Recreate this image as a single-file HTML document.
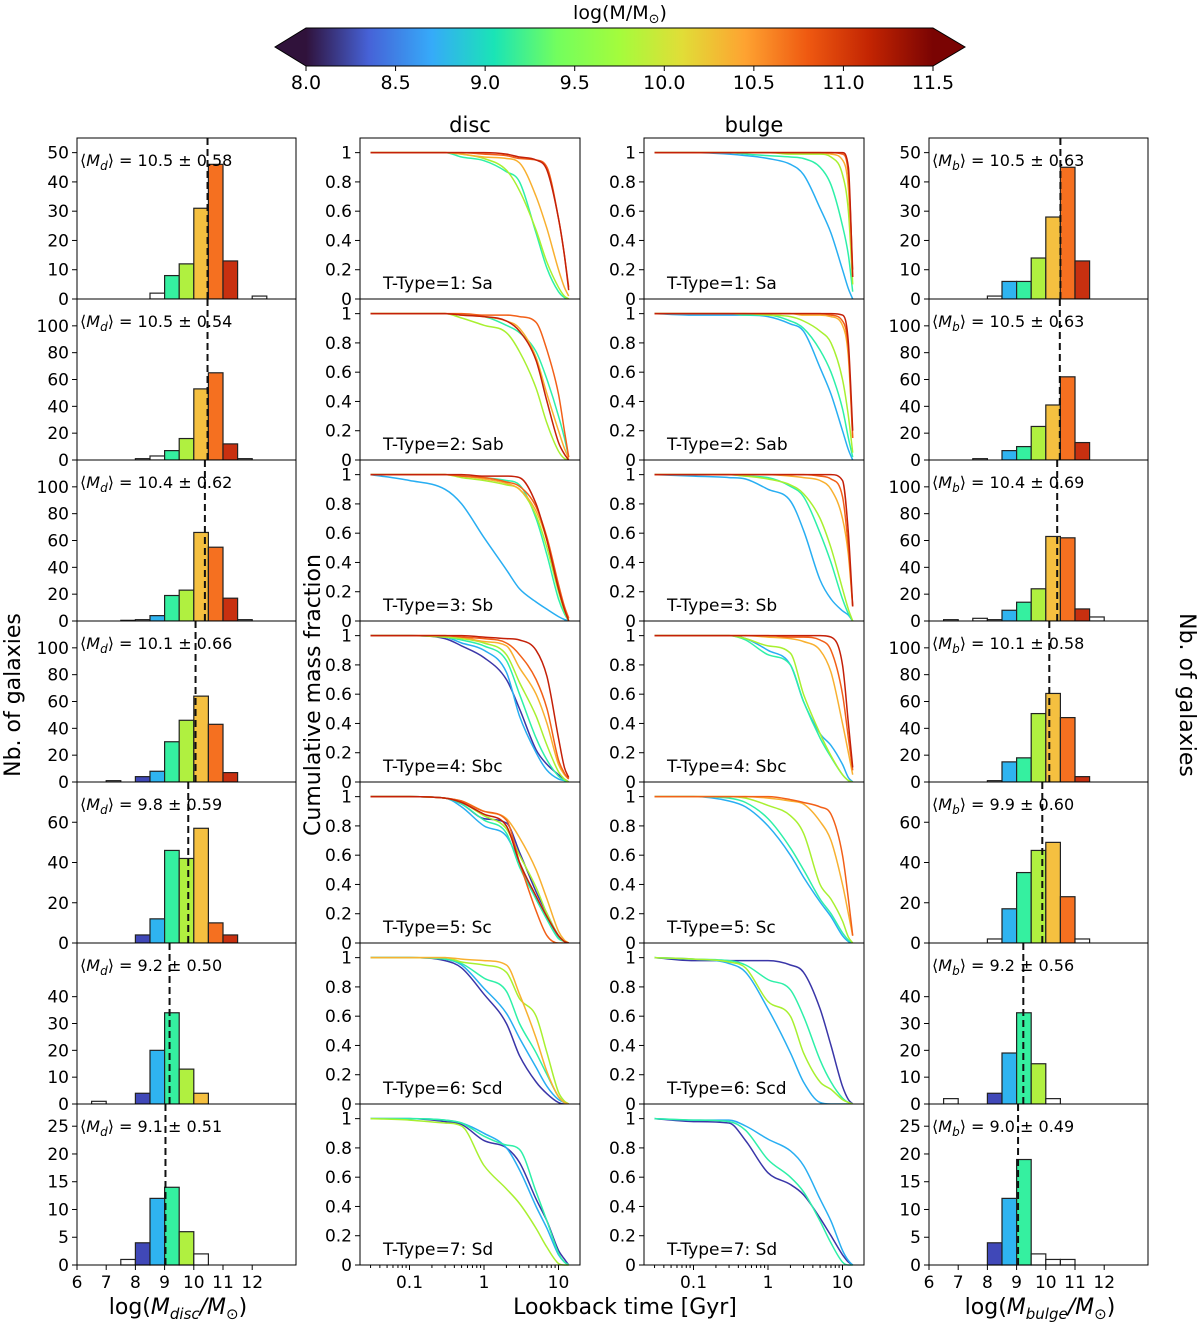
<!DOCTYPE html>
<html><head><meta charset="utf-8"><title>Mass assembly by T-Type</title>
<style>
html,body{margin:0;padding:0;background:#fff;}
svg{display:block;font-family:"DejaVu Sans","Liberation Sans",sans-serif;}
</style></head>
<body>
<svg id="fig" xmlns="http://www.w3.org/2000/svg" width="1200" height="1322" viewBox="0 0 1200 1322">
<defs>
<linearGradient id="turbo" x1="0" x2="1" y1="0" y2="0">
<stop offset="0" stop-color="#30123b"/><stop offset="0.1" stop-color="#4662d7"/>
<stop offset="0.2" stop-color="#36aaf9"/><stop offset="0.3" stop-color="#1ae4b6"/>
<stop offset="0.4" stop-color="#72fe5e"/><stop offset="0.5" stop-color="#a4fc3c"/>
<stop offset="0.6" stop-color="#e1dd37"/><stop offset="0.7" stop-color="#fea331"/>
<stop offset="0.8" stop-color="#ef5911"/><stop offset="0.9" stop-color="#c22402"/>
<stop offset="1" stop-color="#7a0403"/></linearGradient>
</defs>
<g>
<polygon points="306,28 275,47 306,66" fill="#30123b"/>
<polygon points="933,28 965,47 933,66" fill="#7a0403"/>
<rect x="306" y="28" width="627" height="38" fill="url(#turbo)"/>
<polygon points="306,28 933,28 965,47 933,66 306,66 275,47" fill="none" stroke="#000" stroke-width="1"/>
<text x="620" y="19" font-size="19" text-anchor="middle">log(M/M<tspan font-size="13" dy="4">⊙</tspan><tspan dy="-4">)</tspan></text>
</g>
<g id="cbticks"></g>
<text x="470" y="132" font-size="21" text-anchor="middle">disc</text>
<text x="754" y="132" font-size="21" text-anchor="middle">bulge</text>
<text transform="translate(20,695) rotate(-90)" font-size="22" text-anchor="middle">Nb. of galaxies</text>
<text transform="translate(1180,695) rotate(90)" font-size="22" text-anchor="middle">Nb. of galaxies</text>
<text transform="translate(320,695) rotate(-90)" font-size="22" text-anchor="middle">Cumulative mass fraction</text>
<text x="625" y="1314" font-size="22" text-anchor="middle">Lookback time [Gyr]</text>
<text x="178" y="1314" font-size="22" text-anchor="middle">log(<tspan font-style="italic">M</tspan><tspan font-style="italic" font-size="15" dy="5">disc</tspan><tspan dy="-5" font-style="italic">/M</tspan><tspan font-size="15" dy="5">⊙</tspan><tspan dy="-5">)</tspan></text>
<text x="1040" y="1314" font-size="22" text-anchor="middle">log(<tspan font-style="italic">M</tspan><tspan font-style="italic" font-size="15" dy="5">bulge</tspan><tspan dy="-5" font-style="italic">/M</tspan><tspan font-size="15" dy="5">⊙</tspan><tspan dy="-5">)</tspan></text>
<g id="plots"></g>
</svg>
<script>
// ---- data ----
const cbTickValues = [8.0, 8.5, 9.0, 9.5, 10.0, 10.5, 11.0, 11.5];
const ttypeLabels = ["T-Type=1: Sa","T-Type=2: Sab","T-Type=3: Sb","T-Type=4: Sbc","T-Type=5: Sc","T-Type=6: Scd","T-Type=7: Sd"];
const histYMax = [55,120,120,120,80,60,29];
const histYTicks = [[0,10,20,30,40,50],[0,20,40,60,80,100],[0,20,40,60,80,100],[0,20,40,60,80,100],[0,20,40,60],[0,10,20,30,40],[0,5,10,15,20,25]];
const histXTicks = [6,7,8,9,10,11,12];
const massBinEdges = [8,8.5,9,9.5,10,10.5,11,11.5];

const discStart = [8.5,8,7.5,7,8,6.5,7.5];
const discCounts = [[2,8,12,31,46,13,0,1],[1,3,7,16,53,65,12,1],[0.5,1,4,19,23,66,55,17,1],[1,0,4,8,30,46,64,43,7],[4,12,46,42,57,10,4],[1,0,0,4,20,34,13,4],[1,4,12,14,6,2]];
const discColMin = [9,9,8.5,8,8,8,8];
const discColMax = [11.5,11.5,11.5,11.5,11.5,10.5,10];
const discMean = [10.47,10.47,10.38,10.06,9.81,9.17,9.03];
const discMeanTxt = ["10.5","10.5","10.4","10.1","9.8","9.2","9.1"];
const discStdTxt = ["0.58","0.54","0.62","0.66","0.59","0.50","0.51"];

const bulgeStart = [8,7.5,6.5,8,8,6.5,8];
const bulgeCounts = [[1,6,6,14,28,45,13],[1,0,7,10,25,41,62,13],[1,0,2,1,8,14,24,63,62,9,3],[1,15,18,51,66,48,4],[2,17,35,46,50,23,2],[2,0,0,4,19,34,15,2],[4,12,19,2,1,1]];
const bulgeColMin = [8.5,8.5,8.5,8.5,8.5,8,8];
const bulgeColMax = [11.5,11.5,11.5,11.5,11,10,9.5];
const bulgeMean = [10.5,10.48,10.39,10.12,9.88,9.23,9.05];
const bulgeMeanTxt = ["10.5","10.5","10.4","10.1","9.9","9.2","9.0"];
const bulgeStdTxt = ["0.63","0.63","0.69","0.58","0.60","0.56","0.49"];

const lookbackT = [0.03,0.1,0.3,0.5,1,2,3,5,7,10,12,13.7];
const lineXTicks = [0.1,1,10];
const lineYTicks = [0,0.2,0.4,0.6,0.8,1];

const discCurveBins = [[2,3,4,5,6],[2,3,4,5,6],[1,2,3,4,5,6],[0,1,2,3,4,5,6],[0,1,2,3,4,5,6],[0,1,2,3,4],[0,1,2,3]];
const discCurveVals = [
[[1,1,1,0.97,0.945,0.87,0.8,0.45,0.21,0.05,0.01,0],[1,1,1,0.99,0.96,0.88,0.74,0.47,0.25,0.08,0.02,0],[1,1,1,0.99,0.97,0.96,0.93,0.7,0.48,0.2,0.08,0.02],[1,1,1,1,0.99,0.98,0.96,0.95,0.9,0.55,0.3,0.08],[1,1,1,1,1,0.99,0.97,0.95,0.88,0.55,0.3,0.06]],
[[1,1,1,0.99,0.98,0.92,0.87,0.74,0.55,0.3,0.15,0.02],[1,1,1,0.97,0.92,0.87,0.74,0.49,0.25,0.06,0.01,0],[1,1,1,0.99,0.98,0.95,0.9,0.7,0.45,0.2,0.08,0.01],[1,1,1,1,0.99,0.99,0.98,0.94,0.75,0.45,0.2,0.02],[1,1,1,0.99,0.98,0.95,0.88,0.68,0.4,0.12,0.04,0]],
[[1,0.96,0.9,0.8,0.57,0.35,0.22,0.13,0.08,0.03,0.01,0],[1,1,1,0.99,0.98,0.96,0.93,0.7,0.45,0.15,0.05,0],[1,1,1,0.98,0.96,0.93,0.9,0.72,0.5,0.2,0.07,0],[1,1,1,0.99,0.97,0.94,0.9,0.75,0.55,0.22,0.08,0.01],[1,1,1,0.99,0.98,0.95,0.92,0.78,0.57,0.25,0.1,0.02],[1,1,1,1,0.99,0.99,0.98,0.8,0.55,0.22,0.08,0]],
[[1,1,0.98,0.93,0.85,0.7,0.5,0.22,0.12,0.05,0.02,0],[1,1,0.99,0.95,0.9,0.75,0.45,0.2,0.08,0.02,0.01,0],[1,1,0.99,0.97,0.93,0.83,0.6,0.3,0.15,0.04,0.01,0],[1,1,0.99,0.98,0.95,0.87,0.68,0.45,0.25,0.07,0.02,0],[1,1,1,0.99,0.96,0.93,0.78,0.6,0.4,0.12,0.05,0.02],[1,1,1,0.99,0.98,0.95,0.87,0.7,0.5,0.15,0.06,0.02],[1,1,1,1,0.99,0.98,0.97,0.9,0.72,0.3,0.1,0.03]],
[[1,1,0.99,0.95,0.85,0.82,0.62,0.35,0.2,0.05,0.01,0],[1,1,0.99,0.93,0.8,0.73,0.55,0.3,0.17,0.04,0.01,0],[1,1,0.99,0.95,0.84,0.75,0.52,0.3,0.16,0.03,0.01,0],[1,1,0.99,0.96,0.87,0.78,0.6,0.38,0.2,0.05,0.01,0],[1,1,0.99,0.97,0.9,0.85,0.72,0.5,0.3,0.08,0.02,0],[1,1,0.99,0.97,0.9,0.84,0.55,0.22,0.05,0,0,0],[1,1,0.99,0.96,0.88,0.8,0.55,0.32,0.18,0.05,0.01,0]],
[[1,1,0.98,0.93,0.75,0.55,0.33,0.15,0.07,0.01,0,0],[1,1,0.99,0.95,0.79,0.62,0.45,0.25,0.12,0.03,0.01,0],[1,1,0.99,0.96,0.86,0.77,0.55,0.35,0.2,0.05,0.01,0],[1,1,1,0.97,0.95,0.9,0.72,0.6,0.35,0.08,0.02,0],[1,1,1,0.99,0.98,0.95,0.75,0.45,0.22,0.05,0.01,0]],
[[1,1,0.98,0.96,0.85,0.8,0.7,0.45,0.3,0.1,0.04,0],[1,1,0.99,0.97,0.9,0.8,0.65,0.4,0.25,0.07,0.02,0],[1,1,0.99,0.97,0.88,0.82,0.79,0.5,0.3,0.08,0.02,0],[1,0.99,0.97,0.95,0.68,0.52,0.42,0.25,0.12,0.01,0,0]]
];
const bulgeCurveBins = [[1,2,3,4,5,6],[1,2,3,4,5,6],[1,2,3,4,5,6],[1,2,3,4,5,6],[1,2,3,4,5],[0,1,2,3],[0,1,2]];
const bulgeCurveVals = [
[[1,1,0.99,0.98,0.96,0.92,0.85,0.62,0.45,0.2,0.07,0],[1,1,1,0.99,0.98,0.97,0.96,0.9,0.78,0.5,0.3,0.05],[1,1,1,1,1,0.99,0.99,0.99,0.97,0.85,0.6,0.1],[1,1,1,1,1,1,1,1,0.99,0.95,0.75,0.15],[1,1,1,1,1,1,1,1,1,0.99,0.85,0.2],[1,1,1,1,1,1,1,1,1,1,0.9,0.15]],
[[1,0.99,0.99,0.99,0.98,0.93,0.88,0.63,0.45,0.2,0.07,0],[1,1,1,0.99,0.99,0.95,0.9,0.75,0.6,0.35,0.15,0.02],[1,1,1,1,0.99,0.98,0.95,0.88,0.8,0.55,0.3,0.05],[1,1,1,1,1,1,0.99,0.99,0.98,0.92,0.7,0.15],[1,1,1,1,1,1,1,1,0.99,0.95,0.75,0.15],[1,1,1,1,1,1,1,1,1,0.99,0.8,0.2]],
[[1,0.99,0.98,0.97,0.9,0.82,0.62,0.28,0.15,0.07,0.04,0],[1,1,1,0.99,0.98,0.92,0.85,0.6,0.4,0.15,0.05,0],[1,1,1,0.99,0.97,0.93,0.87,0.7,0.5,0.22,0.08,0],[1,1,1,1,1,0.99,0.98,0.96,0.9,0.7,0.45,0.1],[1,1,1,1,1,1,1,0.99,0.97,0.85,0.5,0.1],[1,1,1,1,1,1,1,1,1,0.96,0.6,0.1]],
[[1,1,1,0.98,0.9,0.8,0.55,0.33,0.25,0.12,0.03,0],[1,1,1,0.97,0.87,0.8,0.55,0.3,0.17,0.05,0.01,0],[1,1,1,0.98,0.93,0.88,0.6,0.33,0.18,0.05,0.01,0],[1,1,1,1,0.99,0.98,0.96,0.9,0.75,0.4,0.2,0.05],[1,1,1,1,1,0.99,0.99,0.97,0.9,0.6,0.3,0.08],[1,1,1,1,1,1,1,1,0.99,0.8,0.4,0.1]],
[[1,1,0.97,0.93,0.8,0.6,0.45,0.28,0.18,0.05,0.01,0],[1,1,0.99,0.96,0.85,0.65,0.5,0.3,0.2,0.07,0.02,0],[1,1,1,0.99,0.94,0.87,0.75,0.4,0.3,0.15,0.04,0],[1,1,1,1,0.99,0.97,0.95,0.83,0.7,0.4,0.2,0.05],[1,1,1,1,1,0.98,0.96,0.93,0.88,0.6,0.3,0.05]],
[[1,0.98,0.98,0.98,0.98,0.95,0.9,0.65,0.4,0.12,0.03,0],[1,0.99,0.96,0.9,0.65,0.35,0.15,0.01,0,0,0,0],[1,0.99,0.98,0.95,0.85,0.78,0.6,0.3,0.15,0.04,0.01,0],[1,0.99,0.97,0.93,0.7,0.6,0.35,0.15,0.1,0.03,0.01,0]],
[[1,0.98,0.97,0.85,0.63,0.55,0.48,0.32,0.2,0.07,0.02,0],[1,0.99,0.99,0.95,0.86,0.78,0.68,0.45,0.3,0.1,0.03,0],[1,0.99,0.98,0.92,0.72,0.6,0.5,0.3,0.15,0.02,0,0]]
];

// ---- styles / geometry ----
const binFill = ['#4048b8','#2fb4f0','#35f0a0','#b0f040','#f5c040','#f57020','#c83010'];
const lineColors = ['#3a36a8','#28aef2','#2ef0a8','#a8f030','#f8b030','#f26018','#c42008'];
const NS = 'http://www.w3.org/2000/svg';
const root = document.getElementById('plots');
const ROW0 = 138, ROWH = 161;
const colH1 = [77,296], colD = [360,580], colB = [644,864], colH2 = [929,1148];
function mk(tag, attrs, parent){ const e=document.createElementNS(NS,tag); for(const k in attrs) e.setAttribute(k,attrs[k]); (parent||root).appendChild(e); return e; }
function histX(x0, v){ return x0 + (v-6)*29.2; }
function lineX(x0, t){ return x0 + 124 + 74.5*Math.log10(t); }

// monotone cubic (Fritsch-Carlson) path through screen points
function monoPath(xs, ys){
  const n = xs.length, d = [], m = new Array(n);
  for(let i=0;i<n-1;i++) d.push((ys[i+1]-ys[i])/(xs[i+1]-xs[i]));
  m[0]=d[0]; m[n-1]=d[n-2];
  for(let i=1;i<n-1;i++){ m[i] = (d[i-1]*d[i] <= 0) ? 0 : (d[i-1]+d[i])/2; }
  for(let i=0;i<n-1;i++){
    if(d[i]===0){ m[i]=0; m[i+1]=0; continue; }
    const a=m[i]/d[i], b=m[i+1]/d[i], s=a*a+b*b;
    if(s>9){ const t=3/Math.sqrt(s); m[i]=t*a*d[i]; m[i+1]=t*b*d[i]; }
  }
  let p = 'M'+xs[0].toFixed(1)+','+ys[0].toFixed(1);
  for(let i=0;i<n-1;i++){
    const h=(xs[i+1]-xs[i])/3;
    p += ' C'+(xs[i]+h).toFixed(1)+','+(ys[i]+m[i]*h).toFixed(1)+' '+(xs[i+1]-h).toFixed(1)+','+(ys[i+1]-m[i+1]*h).toFixed(1)+' '+xs[i+1].toFixed(1)+','+ys[i+1].toFixed(1);
  }
  return p;
}

// colorbar ticks
const cbg = document.getElementById('cbticks');
cbTickValues.forEach(v=>{
  const x = 306 + (v-8)/3.5*627;
  const tk = mk('line',{x1:x,x2:x,y1:66,y2:71,stroke:'#000'},cbg);
  
  
  const t = mk('text',{x:x,y:89,'font-size':19,'text-anchor':'middle'},cbg);
  t.textContent = v.toFixed(1);
  
  
});

function binColorIndex(b){ for(let i=0;i<7;i++){ if(b>=massBinEdges[i]-1e-6 && b<massBinEdges[i+1]-1e-6) return i; } return -1; }

function drawHist(row, col, start, counts, cmin, cmax, mean, meanTxt, stdTxt, sub, kind){
  const top = ROW0 + row*ROWH, bot = top + ROWH, x0 = col[0];
  const g = mk('g',{});
  
  
  const bg = mk('rect',{x:x0,y:top,width:col[1]-col[0],height:ROWH,fill:'#fff'},g);
  
  
  const ys = v => bot - v/histYMax[row]*ROWH;
  counts.forEach((c,i)=>{
    const b = start + i*0.5;
    if(c<=0) return;
    const colored = b>=cmin-1e-6 && b<cmax-1e-6;
    const ci = binColorIndex(b);
    const r = mk('rect',{x:histX(x0,b),y:ys(c),width:0.5*29.2,height:bot-ys(c),fill:(colored&&ci>=0)?binFill[ci]:'#fff',stroke:'#222','stroke-width':1.2},g);
    
    
  });
  const ml = mk('line',{x1:histX(x0,mean),x2:histX(x0,mean),y1:top,y2:bot,stroke:'#111','stroke-width':2,'stroke-dasharray':'7,4'},g);
  
  
  const t = mk('text',{x:x0+3,y:top+28,'font-size':16},g);
  t.innerHTML = '⟨<tspan font-style="italic">M</tspan><tspan font-style="italic" font-size="12" dy="4">'+sub+'</tspan><tspan dy="-4">⟩ = '+meanTxt+' ± '+stdTxt+'</tspan>';
  
  
  histYTicks[row].forEach(v=>{
    const y = ys(v);
    const tk = mk('line',{x1:x0-5,x2:x0,y1:y,y2:y,stroke:'#000'},g);
    
    
    const tl = mk('text',{x:x0-8,y:y+6,'font-size':17,'text-anchor':'end'},g);
    tl.textContent = v;
    
    
  });
  if(row===6){
    histXTicks.forEach(v=>{
      const x = histX(x0,v);
      const tk = mk('line',{x1:x,x2:x,y1:bot,y2:bot+5,stroke:'#000'},g);
      
      
      const tl = mk('text',{x:x,y:bot+23,'font-size':17,'text-anchor':'middle'},g);
      tl.textContent = v;
      
      
    });
  }
  const fr = mk('rect',{x:x0,y:top,width:col[1]-col[0],height:ROWH,fill:'none',stroke:'#000','stroke-width':1},g);
  
  
}

function drawLines(row, col, bins, vals, kind){
  const top = ROW0 + row*ROWH, bot = top + ROWH, x0 = col[0];
  const g = mk('g',{});
  
  
  const bg = mk('rect',{x:x0,y:top,width:col[1]-col[0],height:ROWH,fill:'#fff'},g);
  
  
  const ys = v => bot - v/1.1*ROWH;
  vals.forEach((arr,k)=>{
    const xs = arr.map((v,i)=>lineX(x0,lookbackT[i]));
    const yy = arr.map(v=>ys(v));
    const p = mk('path',{d:monoPath(xs,yy),fill:'none',stroke:lineColors[bins[k]],'stroke-width':1.5,'stroke-linejoin':'round'},g);
    
    
  });
  const lab = mk('text',{x:x0+23,y:bot-10,'font-size':17},g);
  lab.textContent = ttypeLabels[row];
  
  
  lineYTicks.forEach(v=>{
    const y = ys(v);
    const tk = mk('line',{x1:x0-5,x2:x0,y1:y,y2:y,stroke:'#000'},g);
    
    
    const tl = mk('text',{x:x0-8,y:y+6,'font-size':17,'text-anchor':'end'},g);
    tl.textContent = v;
    
    
  });
  if(row===6){
    for(let d=-2; d<=1; d++){
      for(let m=1;m<10;m++){
        const t = m*Math.pow(10,d);
        const x = lineX(x0,t);
        if(x<x0||x>col[1]) continue;
        const tk = mk('line',{x1:x,x2:x,y1:bot,y2:bot+(m===1?5:3),stroke:'#000'},g);
        
        
      }
    }
    lineXTicks.forEach(t=>{
      const tl = mk('text',{x:lineX(x0,t),y:bot+23,'font-size':17,'text-anchor':'middle'},g);
      tl.textContent = t;
      
      
    });
  }
  const fr = mk('rect',{x:x0,y:top,width:col[1]-col[0],height:ROWH,fill:'none',stroke:'#000','stroke-width':1},g);
  
  
}

for(let r=0;r<7;r++){
  drawHist(r, colH1, discStart[r], discCounts[r], discColMin[r], discColMax[r], discMean[r], discMeanTxt[r], discStdTxt[r], 'd', 'disc');
  drawLines(r, colD, discCurveBins[r], discCurveVals[r], 'disc');
  drawLines(r, colB, bulgeCurveBins[r], bulgeCurveVals[r], 'bulge');
  drawHist(r, colH2, bulgeStart[r], bulgeCounts[r], bulgeColMin[r], bulgeColMax[r], bulgeMean[r], bulgeMeanTxt[r], bulgeStdTxt[r], 'b', 'bulge');
}
</script>
</body></html>
